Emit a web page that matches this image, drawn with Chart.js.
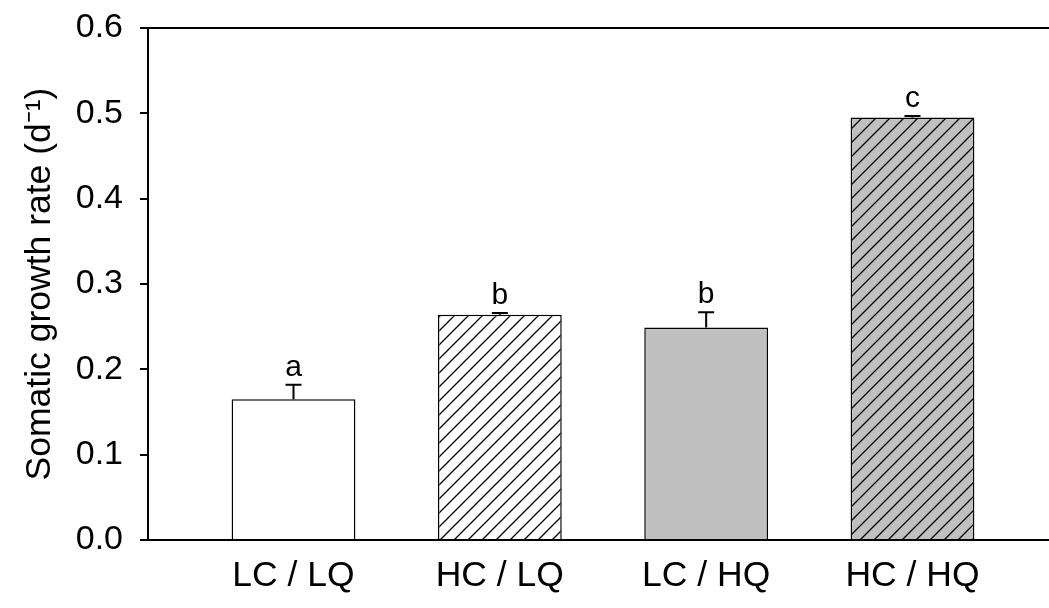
<!DOCTYPE html>
<html><head><meta charset="utf-8">
<script src="https://cdn.jsdelivr.net/npm/chart.js@4/dist/chart.umd.min.js"></script>
<style>html,body{margin:0;padding:0;background:#fff;}</style>
</head><body>
<canvas id="c" width="1049" height="608"></canvas>
<script>
// ---- data ----
const categories = ['LC / LQ', 'HC / LQ', 'LC / HQ', 'HC / HQ'];
const growthRate = [0.165, 0.264, 0.249, 0.495];
const errorUp = [0.017, 0.002, 0.018, 0.002];
const letters = ['a', 'b', 'b', 'c'];
const yTickValues = [0, 0.1, 0.2, 0.3, 0.4, 0.5, 0.6];

// ---- styles ----
const FONT = '"Liberation Sans", Arial, Helvetica, sans-serif';
Chart.defaults.font.family = FONT;
Chart.defaults.color = '#000';
const GREY = '#c0c0c0';

function hatch(bg) {
  const s = 14;
  const c = document.createElement('canvas');
  c.width = s; c.height = s;
  const g = c.getContext('2d');
  g.fillStyle = bg; g.fillRect(0, 0, s, s);
  g.strokeStyle = '#000'; g.lineWidth = 1.3;
  g.beginPath();
  g.moveTo(-1, s + 1); g.lineTo(s + 1, -1);
  g.moveTo(-1, 1); g.lineTo(1, -1);
  g.moveTo(s - 1, s + 1); g.lineTo(s + 1, s - 1);
  g.stroke();
  return g.createPattern(c, 'repeat');
}
const barFills = [ '#ffffff', hatch('#ffffff'), GREY, hatch(GREY) ];

const errPlugin = {
  id: 'errLetters',
  afterDatasetsDraw(chart) {
    const { ctx, scales: { x, y } } = chart;
    ctx.save();
    ctx.strokeStyle = '#000';
    ctx.lineWidth = 2;
    ctx.fillStyle = '#000';
    ctx.font = '30px ' + FONT;
    ctx.textAlign = 'center';
    ctx.textBaseline = 'alphabetic';
    growthRate.forEach((v, i) => {
      const px = x.getPixelForValue(i);
      const top = y.getPixelForValue(v);
      const cap = y.getPixelForValue(v + errorUp[i]);
      ctx.beginPath();
      ctx.moveTo(px, top); ctx.lineTo(px, cap);
      ctx.moveTo(px - 8, cap); ctx.lineTo(px + 8, cap);
      ctx.stroke();
      ctx.fillText(letters[i], px, cap - 9);
    });
    ctx.restore();
  }
};

new Chart(document.getElementById('c'), {
  type: 'bar',
  data: {
    datasets: [{
      data: growthRate.map((v, i) => ({ x: i, y: v })),
      backgroundColor: barFills,
      borderColor: '#000',
      borderWidth: 1.5,
      categoryPercentage: 0.6,
      barPercentage: 1.0
    }]
  },
  options: {
    responsive: false,
    devicePixelRatio: 1,
    animation: false,
    layout: { padding: { left: 19, top: 28, right: 0, bottom: 10 } },
    plugins: { legend: { display: false }, tooltip: { enabled: false } },
    scales: {
      x: {
        type: 'linear',
        offset: false,
        min: -0.7052,
        max: 3.6616,
        afterBuildTicks(s) { s.ticks = categories.map((_, i) => ({ value: i })); },
        afterFit(s) { s.height = 58; s.paddingLeft = 0; s.paddingRight = 0; },
        ticks: {
          callback: v => categories[v],
          font: { size: 35.5 },
          color: '#000',
          padding: 15,
          autoSkip: false,
          maxRotation: 0,
          includeBounds: false
        },
        grid: { display: false, drawTicks: false },
        border: { display: true, color: '#000', width: 2 }
      },
      y: {
        min: 0,
        max: 0.6,
        afterBuildTicks(s) { s.ticks = yTickValues.map(v => ({ value: v })); },
        afterFit(s) { s.width = 148 - 19; s.paddingTop = 0; s.paddingBottom = 0; },
        ticks: {
          callback: v => Number(v).toFixed(1),
          font: { size: 34 },
          color: '#000',
          padding: 17
        },
        grid: {
          color: c => (c.tick && Math.abs(c.tick.value - 0.6) < 1e-9) ? '#000' : 'rgba(0,0,0,0)',
          tickColor: '#000',
          lineWidth: 2,
          tickWidth: 2,
          tickLength: 8
        },
        border: { display: true, color: '#000', width: 2 },
        title: {
          display: true,
          text: 'Somatic growth rate (d\u207B\u00B9)',
          font: { size: 35.5 },
          color: '#000',
          padding: { top: 0, bottom: 0 }
        }
      }
    }
  },
  plugins: [errPlugin]
});
</script>
</body></html>
